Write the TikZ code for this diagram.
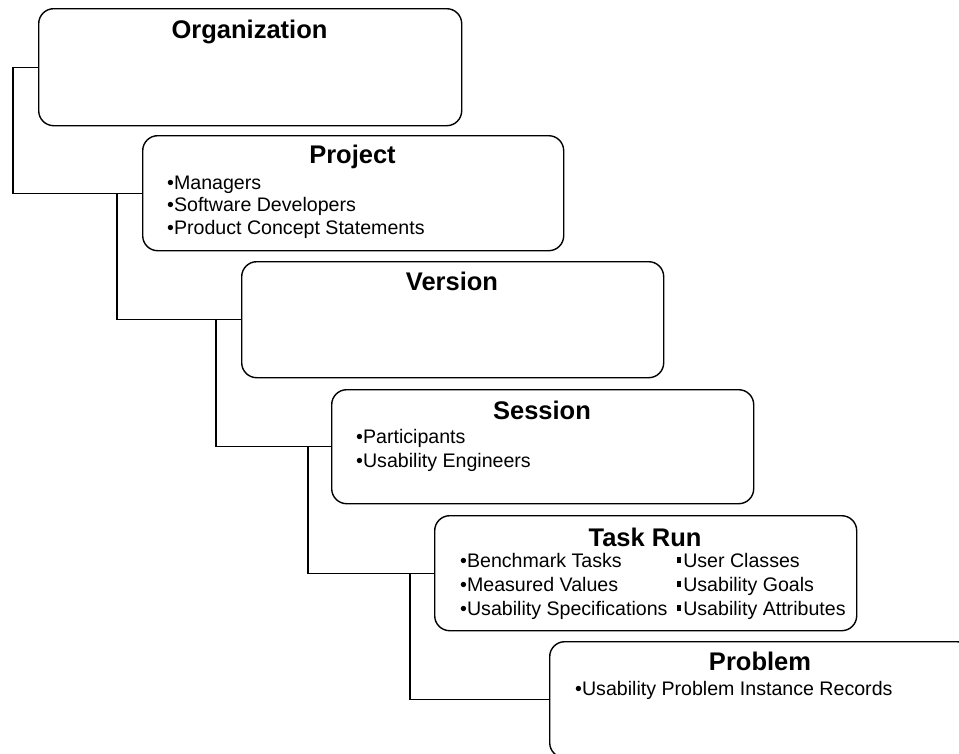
\documentclass[tikz,border=0pt]{standalone}
\usepackage{fontspec}
\setmainfont{Liberation Sans}
% round bullet and small square bullet for list items
\newcommand\dotb{\textbullet}
\newcommand\sqb{\raisebox{0.2em}{\rule{0.17em}{0.32em}}\hspace{0.14em}}
\begin{document}
\begin{tikzpicture}[x=1pt,y=-1pt,
  card/.style={draw=black, line width=1.4pt, rounded corners=15pt, anchor=north west,
    inner sep=0pt, minimum width=422pt, minimum height=116pt},
  head/.style={anchor=base, inner sep=0pt, font=\bfseries\fontsize{25.5pt}{28pt}\selectfont},
  item/.style={anchor=base west, inner sep=0pt, font=\fontsize{19.6pt}{22pt}\selectfont},
  link/.style={draw=black, line width=1.1pt}]
\useasboundingbox (0,0) rectangle (959,753);
\clip (0,0) rectangle (959,753);
\fill[white] (0,0) rectangle (959,753);

% cascading boxes
\node[card, minimum width=423pt, minimum height=117pt] (org) at (38,8) {};
\node[card, minimum width=421pt, minimum height=115pt] (proj) at (142,135) {};
\node[card] (ver) at (241,261) {};
\node[card, minimum height=114pt] (ses) at (331,389) {};
\node[card, minimum height=115pt] (task) at (434,515) {};
\node[card] (prob) at (549,641) {};

% connectors
\draw[link] (org.west) -- ++(-25,0) |- (proj.west);
\draw[link] (proj.west) ++(-25,0) |- (ver.west);
\draw[link] (ver.west) ++(-25,0) |- (ses.west);
\draw[link] (ses.west) ++(-23,0) |- (task.west);
\draw[link] (task.west) ++(-24,0) |- (prob.west);

% titles
\node[head] (orgT) at (249.5,38.5) {Organization};
\node[head] (projT) at (352.5,163.5) {Project};
\node[head] (verT) at (452,290) {Version};
\node[head] (sesT) at (542,419) {Session};
\node[head] (taskT) at (645,546) {Task Run};
\node[head] (probT) at (760,670) {Problem};

% list items
\node[item] (p1) at (167,189) {\dotb Managers};
\node[item] (p2) at (167,211.5) {\dotb Software Developers};
\node[item] (p3) at (167,234) {\dotb Product Concept Statements};

\node[item] (s1) at (356,443) {\dotb Participants};
\node[item] (s2) at (356,467) {\dotb Usability Engineers};

\node[item] (t1) at (460,567) {\dotb Benchmark Tasks};
\node[item] (t2) at (460,591) {\dotb Measured Values};
\node[item] (t3) at (460,615) {\dotb Usability Specifications};
\node[item] (t4) at (677,567) {\sqb User Classes};
\node[item] (t5) at (677,591) {\sqb Usability Goals};
\node[item] (t6) at (677,615) {\sqb Usability Attributes};

\node[item] (r1) at (575,695) {\dotb Usability Problem Instance Records};
\end{tikzpicture}
\end{document}
